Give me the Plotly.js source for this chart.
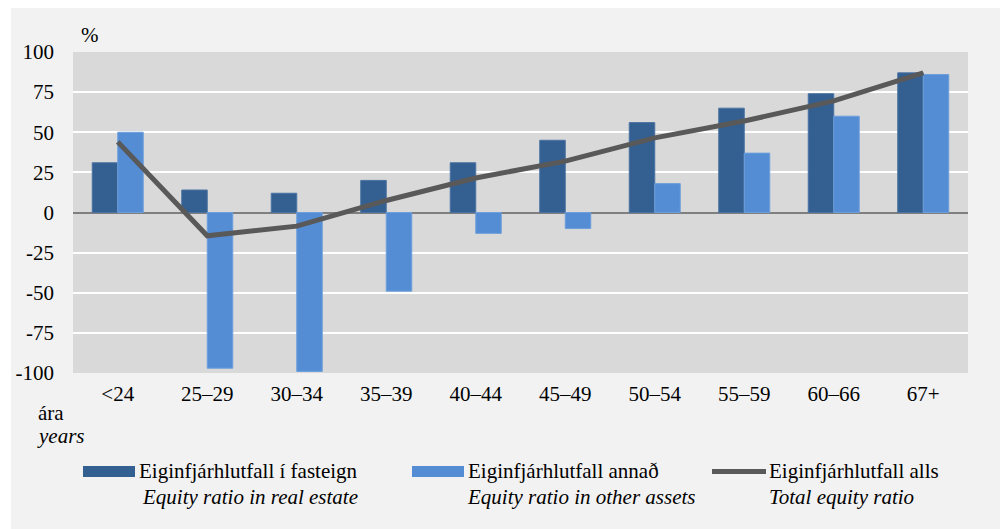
<!DOCTYPE html>
<html><head><meta charset="utf-8">
<script src="https://cdn.plot.ly/plotly-3.0.1.min.js"></script>
<style>html,body{margin:0;padding:0;background:#fff;}#chart{position:absolute;left:11px;top:8px;width:989px;height:521px;}</style>
</head><body><div id="chart"></div>
<script>
const categories = ['<24','25–29','30–34','35–39','40–44','45–49','50–54','55–59','60–66','67+'];
const realEstate = [31, 14, 12, 20, 31, 45, 56, 65, 74, 87];
const otherAssets = [50, -97, -99, -49, -13, -10, 18, 37, 60, 86];
const totalRatio = [44, -14.5, -8.5, 7.5, 21.5, 32, 46.5, 57, 69.5, 87];
const yTicks = [-100, -75, -50, -25, 0, 25, 50, 75, 100];
const legendLabels = ['Eiginfjárhlutfall í fasteign', 'Eiginfjárhlutfall annað', 'Eiginfjárhlutfall alls'];
const legendLabelsEn = ['Equity ratio in real estate', 'Equity ratio in other assets', 'Total equity ratio'];

const DARK = '#345f91', LIGHT = '#548dd4', LINE = '#595959';
const FONT = '"Liberation Serif", "Times New Roman", serif';
const FS = 21;
// page-pixel -> paper helpers (plot area: x 73..968, y 52..373 in page pixels)
const X0 = 73, X1 = 968, Y0 = 52, Y1 = 373;
const px = X => (X - X0) / (X1 - X0);
const py = Y => (Y1 - Y) / (Y1 - Y0);

const traces = [
  {type:'bar', x:categories, y:realEstate, name:legendLabels[0], marker:{color:DARK, line:{color:'#4a73a3', width:1}}, showlegend:false, hoverinfo:'y'},
  {type:'bar', x:categories, y:otherAssets, name:legendLabels[1], marker:{color:LIGHT, line:{color:'#6d9fdc', width:1}}, showlegend:false, hoverinfo:'y'},
  {type:'scatter', mode:'lines', x:categories, y:totalRatio, name:legendLabels[2], line:{color:LINE, width:5}, showlegend:false, hoverinfo:'y'}
];

const shapes = [
  {type:'rect', xref:'paper', yref:'paper', x0:px(83), x1:px(135), y0:py(477), y1:py(466), fillcolor:DARK, line:{width:0}},
  {type:'rect', xref:'paper', yref:'paper', x0:px(412), x1:px(464), y0:py(477), y1:py(466), fillcolor:LIGHT, line:{width:0}},
  {type:'line', xref:'paper', yref:'paper', x0:px(712), x1:px(766), y0:py(471.5), y1:py(471.5), line:{color:LINE, width:5}}
];

const ann = (text, X, Y, italic, xanchor) => ({
  text: italic ? '<i>'+text+'</i>' : text, xref:'paper', yref:'paper', x:px(X), y:py(Y),
  xanchor: xanchor || 'left', yanchor:'middle', showarrow:false, font:{family:FONT, size:FS, color:'#000'}
});

const annotations = [
  ann('%', 79, 35, false),
  ann('ára', 36, 413, false),
  ann('<i>years</i>', 35, 436, false),
  ann(legendLabels[0], 137, 471, false),
  ann(legendLabelsEn[0], 140, 497, true),
  ann(legendLabels[1], 466, 471, false),
  ann(legendLabelsEn[1], 465, 497, true),
  ann(legendLabels[2], 767, 471, false),
  ann(legendLabelsEn[2], 767, 497, true)
];

const layout = {
  width:989, height:521,
  margin:{l:62, r:32, t:44, b:156},
  paper_bgcolor:'#f2f2f2', plot_bgcolor:'#d9d9d9',
  barmode:'group', bargap:0.43, bargroupgap:0,
  font:{family:FONT, size:FS, color:'#000'},
  xaxis:{type:'category', tickfont:{family:FONT, size:FS}, ticks:'', ticklabelstandoff:6, showgrid:false, zeroline:false, showline:false, fixedrange:true},
  yaxis:{range:[-100,100], tickvals:yTicks, ticktext:yTicks.map(String), tickfont:{family:FONT, size:FS},
         showgrid:true, gridcolor:'#ffffff', gridwidth:2, zeroline:true, zerolinecolor:'#7f7f7f', zerolinewidth:2,
         ticks:'', ticklabelstandoff:18, showline:false, fixedrange:true},
  shapes:shapes, annotations:annotations, showlegend:false
};

Plotly.newPlot('chart', traces, layout, {displayModeBar:false, staticPlot:true});
</script></body></html>
